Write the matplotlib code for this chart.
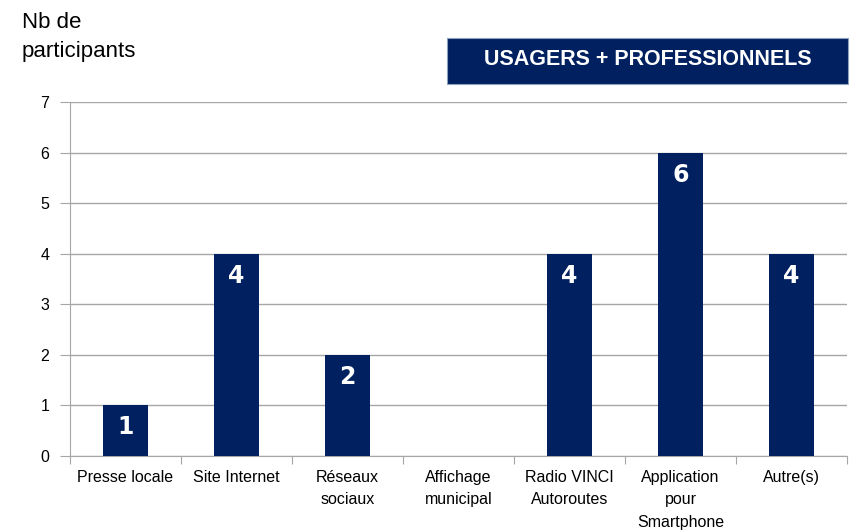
import matplotlib
matplotlib.use("Agg")
import matplotlib.pyplot as plt
from matplotlib.patches import Rectangle

categories = ["Presse locale", "Site Internet", "Réseaux\nsociaux", "Affichage\nmunicipal",
              "Radio VINCI\nAutoroutes", "Application\npour\nSmartphone", "Autre(s)"]
values = [1, 4, 2, 0, 4, 6, 4]
yticks = [0, 1, 2, 3, 4, 5, 6, 7]

navy = "#002060"
grid = "#a6a6a6"
narrow = ["Liberation Sans Narrow", "Liberation Sans", "DejaVu Sans"]

fig = plt.figure(figsize=(8.54, 5.32), dpi=100)
ax = fig.add_axes([70/854, 1-456/532, (847-70)/854, (456-102)/532])

x = list(range(len(categories)))
ax.bar(x, values, width=0.4, color=navy, zorder=3)
for xi, v in zip(x, values):
    if v > 0:
        ax.annotate(str(v), (xi, v), xytext=(0, -22), textcoords="offset pixels",
                    ha="center", va="center", color="white", fontsize=17, fontweight="bold",
                    family=["DejaVu Sans"], zorder=4)

ax.set_xlim(-0.5, len(categories)-0.5)
ax.set_ylim(0, 7)
ax.set_yticks(yticks)
ax.set_yticklabels([str(t) for t in yticks], fontsize=11.5, family=narrow)
ax.yaxis.grid(True, color=grid, linewidth=1, zorder=0)
ax.set_axisbelow(True)
ax.tick_params(axis="y", length=7, color=grid, pad=8)

ax.set_xticks([i - 0.5 for i in range(len(categories)+1)])
ax.set_xticklabels([])
ax.tick_params(axis="x", length=6, color=grid)
for xi, lab in zip(x, categories):
    ax.text(xi, -0.28, lab, ha="center", va="top", fontsize=11.5, family=narrow,
            linespacing=1.6, transform=ax.transData, clip_on=False)

for s in ["top", "right"]:
    ax.spines[s].set_visible(False)
for s in ["left", "bottom"]:
    ax.spines[s].set_color(grid)

fig.text(22/854, 1-37/532, "Nb de\nparticipants", ha="left", va="center", fontsize=16,
         family=["Liberation Sans", "DejaVu Sans"], linespacing=1.55)

fig.patches.append(Rectangle((447/854, 1-84/532), (848-447)/854, (84-38)/532,
                             transform=fig.transFigure, facecolor=navy, edgecolor="#8ea0c0",
                             linewidth=0.8, figure=fig))
fig.text((447+848)/2/854, 1-60/532, "USAGERS + PROFESSIONNELS", ha="center", va="center",
         color="white", fontsize=15.5, fontweight="bold", family=narrow)

fig.savefig("out.png", dpi=100)
